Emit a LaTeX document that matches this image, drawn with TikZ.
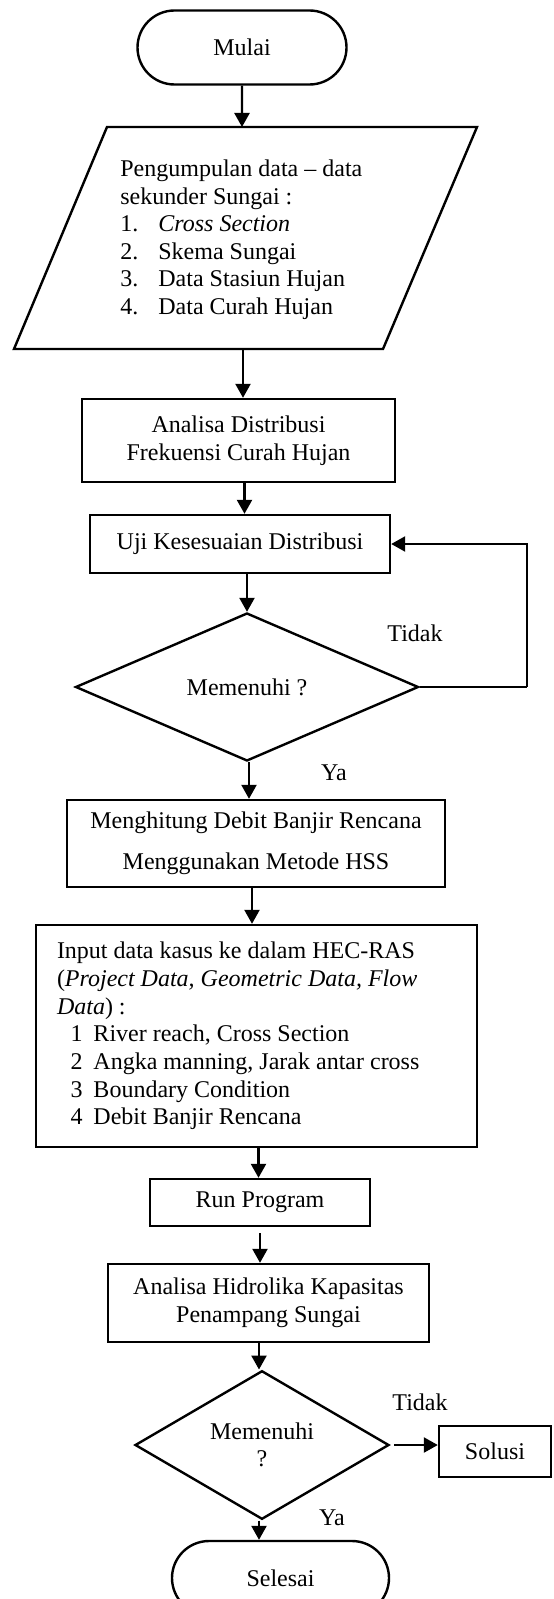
\documentclass[tikz,border=0pt]{standalone}
\usepackage{fontspec}
\setmainfont{Liberation Serif}
\usetikzlibrary{shapes.geometric, shapes.misc, arrows.meta, positioning, calc}
\tikzset{
  flowline/.style={line width=1.2pt},
  arrowline/.style={flowline, -{Triangle[length=7pt,width=7.5pt]}},
  terminal/.style={rounded rectangle, draw, flowline, minimum height=37pt, inner sep=0pt},
  procbox/.style={rectangle, draw, flowline, align=center, inner sep=0pt},
  decision/.style={diamond, draw, flowline, align=center, inner sep=0pt},
  txt/.style={inner sep=0pt},
  lbl/.style={inner sep=0pt},
}
\newcommand{\listno}[2]{\makebox[#1][l]{#2}}%  \listno{width}{number}

\begin{document}
\begin{tikzpicture}[x=0.5pt, y=-0.5pt, font=\fontsize{12}{13.8}\selectfont]
    \clip (0,0) rectangle (553,1599);
    % ── Start and data input
    \node[terminal, minimum width=104.5pt] (mulai) at (242,47.5) {Mulai};
    \draw[flowline] (107,127) -- (477,127) -- (383,349) -- (14,349) -- cycle;
    \coordinate (datatop) at (242,127);
    \coordinate (databot) at (243,349);
    \node[txt, anchor=west, align=left, font=\fontsize{12}{13.75}\selectfont] (data) at (120,239.5)
      {Pengumpulan data -- data\\
       sekunder Sungai :\\
       \listno{19pt}{1.}\textit{Cross Section}\\
       \listno{19pt}{2.}Skema Sungai\\
       \listno{19pt}{3.}Data Stasiun Hujan\\
       \listno{19pt}{4.}Data Curah Hujan};
    % ── Distribution analysis and test
    \node[procbox, minimum width=156.5pt, minimum height=41.5pt] (distfreq) at (238.5,440.5)
      {Analisa Distribusi\\ Frekuensi Curah Hujan};
    \node[procbox, minimum width=150pt, minimum height=29pt] (uji) at (240,544)
      {Uji Kesesuaian Distribusi};
    \node[decision, minimum width=171.5pt, minimum height=74pt] (cek1) at (247,687)
      {Memenuhi ?};
    \coordinate (loopx) at (527,687);
    \node[lbl] (tidak1) at (415,633) {Tidak};
    \node[lbl] (ya1) at (334,773) {Ya};
    % ── Design flood and HEC-RAS
    \node[procbox, minimum width=189pt, minimum height=43.5pt, font=\fontsize{12}{20.5}\selectfont]
      (debit) at (256,843.5) {Menghitung Debit Banjir Rencana\\ Menggunakan Metode HSS};
    \node[procbox, align=flush left, text width=199.5pt, inner xsep=10.5pt, minimum height=111pt,
      font=\fontsize{12}{13.85}\selectfont] (input) at (256.5,1036)
      {Input data kasus ke dalam HEC-RAS\\
       (\textit{Project Data, Geometric Data, Flow}\\
       \textit{Data}) :\\
       \hspace*{6.75pt}\listno{11.5pt}{1}River reach, Cross Section\\
       \hspace*{6.75pt}\listno{11.5pt}{2}Angka manning, Jarak antar cross\\
       \hspace*{6.75pt}\listno{11.5pt}{3}Boundary Condition\\
       \hspace*{6.75pt}\listno{11.5pt}{4}Debit Banjir Rencana};
    \node[procbox, minimum width=110pt, minimum height=23.5pt] (run) at (260,1202.5) {Run Program};
    \node[procbox, minimum width=160.5pt, minimum height=39pt] (hidro) at (268.5,1303)
      {Analisa Hidrolika Kapasitas\\ Penampang Sungai};
    \node[decision, minimum width=127pt, minimum height=66pt] (cek2) at (262,1445)
      {Memenuhi\\ ?};
    \node[procbox, minimum width=56pt, minimum height=25.5pt] (solusi) at (495,1451.5) {Solusi};
    \node[lbl] (tidak2) at (420,1402) {Tidak};
    \node[lbl] (ya2) at (332,1518) {Ya};
    \node[terminal, minimum width=108.5pt] (selesai) at (280.5,1578) {Selesai};
    % ── Connectors
    \draw[arrowline] (mulai) -- (datatop);
    \draw[arrowline] (databot) -- (databot |- distfreq.north);
    \draw[arrowline] ([xshift=3pt]distfreq.south) -- ([xshift=3pt]distfreq.south |- uji.north);
    \draw[arrowline] (cek1.north |- uji.south) -- (cek1.north);
    \draw[flowline] (cek1.east) -- (loopx);
    \draw[arrowline] (loopx) |- (uji.east);
    \draw[arrowline] ([xshift=1pt]cek1.south) -- ([xshift=1pt]cek1.south |- debit.north);
    \draw[arrowline] ([xshift=-2pt]debit.south) -- ([xshift=-2pt]debit.south |- input.north);
    \draw[arrowline] ([xshift=1pt]input.south) -- ([xshift=1pt]input.south |- run.north);
    \draw[arrowline, shorten <=3pt] (run.south) -- (run.south |- hidro.north);
    \draw[arrowline] ([xshift=-1.5pt]cek2.north |- hidro.south) -- ([xshift=-1.5pt]cek2.north);
    \draw[arrowline] ([xshift=2pt]cek2.east) -- (cek2.east -| solusi.west);
    \draw[arrowline] ([xshift=-1.5pt]cek2.south) -- ([xshift=-1.5pt]cek2.south |- selesai.north);
\end{tikzpicture}
\end{document}
